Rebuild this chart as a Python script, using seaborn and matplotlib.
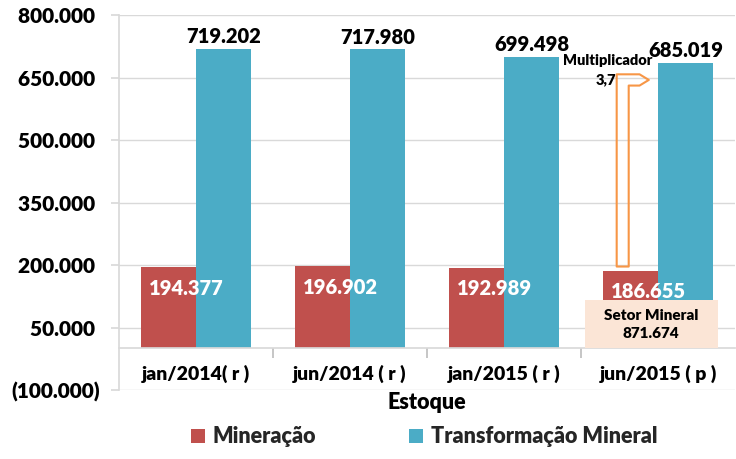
import numpy as np
import pandas as pd
import matplotlib
matplotlib.use("Agg")
import matplotlib.pyplot as plt
import seaborn as sns
from matplotlib.patches import Rectangle, Polygon
from matplotlib.ticker import FuncFormatter

# --- data ---
periods = ["jan/2014( r )", "jun/2014 ( r )", "jan/2015 ( r )", "jun/2015 ( p )"]
mineracao = [194377, 196902, 192989, 186655]
transformacao = [719202, 717980, 699498, 685019]
series_names = ["Mineração", "Transformação Mineral"]
setor_mineral = 871674
multiplicador = "3,7"
y_ticks = [-100000, 50000, 200000, 350000, 500000, 650000, 800000]

colors = ["#C0504D", "#4BACC6"]
grid_color = "#D9D9D9"
W = "heavy"


def fmt(v, pos=None):
    s = f"{abs(int(round(v))):,}".replace(",", ".")
    return f"({s})" if v < 0 else s


def tick_fmt(v, pos=None):
    # Excel keeps room for the closing parenthesis on positive numbers
    return fmt(v) if v < 0 else fmt(v) + " "


df = pd.DataFrame({
    "Estoque": periods * 2,
    "valor": mineracao + transformacao,
    "serie": [series_names[0]] * len(periods) + [series_names[1]] * len(periods),
})

sns.set_theme(style="white")
plt.rcParams["font.family"] = ["Lato", "DejaVu Sans"]
plt.rcParams["font.weight"] = W

fig = plt.figure(figsize=(7.36, 4.59), dpi=100)
ax = fig.add_axes([0.1617, 0.150, 0.837, 0.817])

sns.barplot(data=df, x="Estoque", y="valor", hue="serie", palette=colors,
            width=0.714, saturation=1, ax=ax, zorder=2, linewidth=0, edgecolor="none")

# --- axes styling ---
ax.set_xlim(-0.5, len(periods) - 0.5)
ax.set_ylim(y_ticks[0], y_ticks[-1])
ax.set_yticks(y_ticks)
ax.yaxis.set_major_formatter(FuncFormatter(tick_fmt))
ax.yaxis.grid(True, color=grid_color, lw=1)
ax.set_axisbelow(True)
ax.tick_params(axis="y", which="major", left=True, length=6, color=grid_color,
               labelsize=15, pad=8, labelcolor="black")
ax.set_ylabel("")

for side in ["top", "right"]:
    ax.spines[side].set_visible(False)
ax.spines["left"].set_color(grid_color)
ax.spines["bottom"].set_color(grid_color)
ax.spines["bottom"].set_position(("data", 0))

ax.set_xticks(np.arange(len(periods) - 1) + 0.5)
ax.set_xticklabels([])
ax.set_xticks(np.arange(len(periods)), minor=True)
ax.set_xticklabels(periods, minor=True)
ax.tick_params(axis="x", which="major", bottom=True, length=7, color="#BFBFBF")
ax.tick_params(axis="x", which="minor", bottom=True, length=0, pad=12,
               labelsize=14, labelcolor="black")
ax.set_xlabel("Estoque", fontsize=15.5, fontweight=W, labelpad=6, color="black")

# --- data labels ---
red_bars, blue_bars = ax.containers[0], ax.containers[1]
ax.bar_label(blue_bars, labels=[fmt(v) for v in transformacao], padding=2,
             fontsize=14.5, fontweight=W, color="black")

# Setor Mineral box behind the last group's labels
last_red, last_blue = red_bars[-1], blue_bars[-1]
box_left = last_red.get_x() - 0.12
box_right = last_blue.get_x() + last_blue.get_width() + 0.03
box_top = 116000
ax.add_patch(Rectangle((box_left, 0), box_right - box_left, box_top,
                       facecolor="#FBE5D6", edgecolor="none", zorder=3))
ax.text((box_left + box_right) / 2, box_top / 2,
        f"Setor Mineral\n{fmt(setor_mineral)}", ha="center", va="center",
        fontsize=11, fontweight=W, color="black", linespacing=1.45, zorder=4)

for bar, value in zip(red_bars, mineracao):
    x = bar.get_x() + bar.get_width() / 2
    ax.annotate(fmt(value), (x, value), xytext=(13, -15), textcoords="offset points",
                ha="center", va="center", color="white", fontsize=14.5,
                fontweight=W, zorder=5)

# --- bent arrow "Multiplicador" ---
red_cx = last_red.get_x() + last_red.get_width() / 2
sx0, sx1 = red_cx - 0.09, red_cx - 0.012
y_bot = mineracao[-1] + 10000
y_top, y_arm = 658000, 631000
y_mid = (y_top + y_arm) / 2
tip = last_blue.get_x() - 0.06
head = tip - 0.06
arrow = Polygon([(sx0, y_bot), (sx0, y_top), (head, y_top), (tip, y_mid),
                 (head, y_arm), (sx1, y_arm), (sx1, y_bot)], closed=True,
                facecolor="none", edgecolor="#F79646", lw=1.5, joinstyle="round",
                zorder=4)
ax.add_patch(arrow)
ax.text(sx0 - 0.005, y_mid, multiplicador, ha="right", va="center",
        fontsize=10.5, fontweight=W, color="black", zorder=5)
ax.text(sx0 - 0.06, 692000, "Multiplicador", ha="center", va="center",
        fontsize=10.5, fontweight=W, color="black", zorder=5)

# --- legend ---
handles, labels = ax.get_legend_handles_labels()
ax.get_legend().remove()
fig.legend(handles, labels, loc="center", bbox_to_anchor=(0.576, 0.048), ncol=2,
           frameon=False, prop={"size": 15.5, "weight": W}, handlelength=0.65,
           handleheight=0.65, handletextpad=0.35, columnspacing=4.35)

fig.savefig("out.png", dpi=100)
